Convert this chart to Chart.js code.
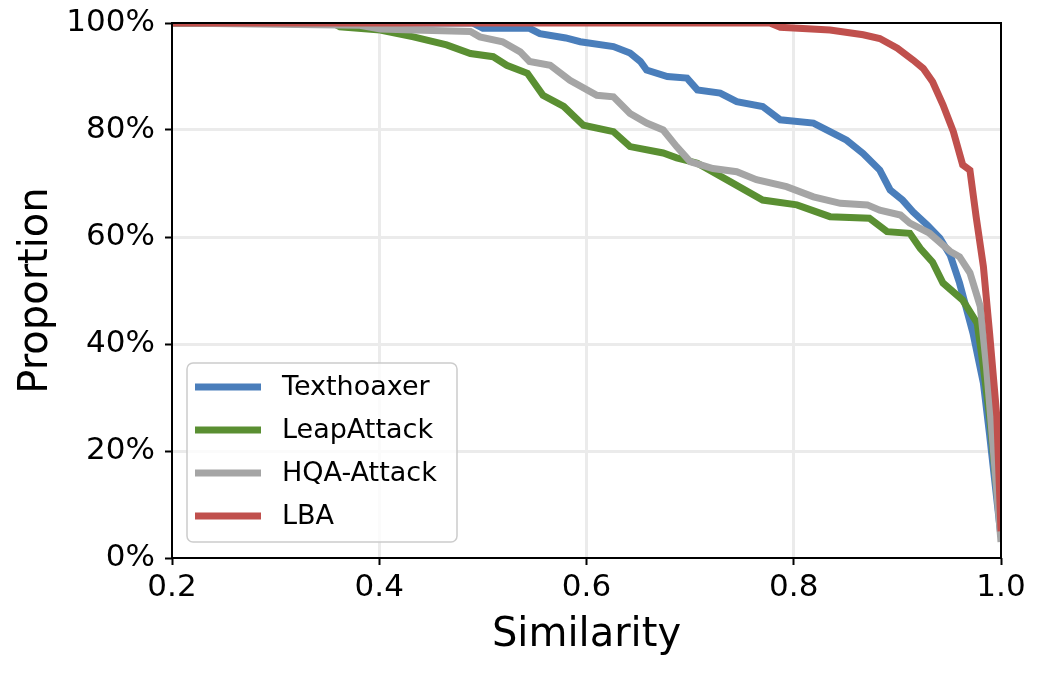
<!DOCTYPE html>
<html>
<head>
<meta charset="utf-8">
<script src="https://cdn.jsdelivr.net/npm/chart.js@4"></script>
<style>
  body { margin: 0; background: #fff; }
</style>
</head>
<body>
<canvas id="grafico" width="1049" height="675"></canvas>
<script>
// valores (x = similaridade, y = proporcao em %)
var nomes = ['Texthoaxer', 'LeapAttack', 'HQA-Attack', 'LBA'];
var cores = ['#4a7ebb', '#5a8f32', '#a5a5a5', '#c0504d'];

var texthoaxer_x = [0.2, 0.49, 0.50, 0.545, 0.555, 0.58, 0.594, 0.626, 0.642, 0.652, 0.658, 0.678, 0.697, 0.707, 0.729, 0.745, 0.77, 0.787, 0.819, 0.835, 0.851, 0.867, 0.883, 0.893, 0.905, 0.915, 0.929, 0.941, 0.951, 0.96, 0.973, 0.983, 0.989, 1.0];
var texthoaxer_y = [100, 100, 99, 99, 98, 97.2, 96.5, 95.6, 94.4, 92.8, 91.2, 90.0, 89.7, 87.5, 86.9, 85.3, 84.4, 81.9, 81.3, 79.7, 78.1, 75.6, 72.5, 68.8, 66.9, 64.7, 62.2, 59.8, 56.6, 51.4, 42, 32.7, 23, 4];

var leap_x = [0.2, 0.355, 0.362, 0.401, 0.433, 0.465, 0.488, 0.51, 0.523, 0.543, 0.558, 0.578, 0.597, 0.626, 0.642, 0.674, 0.687, 0.707, 0.739, 0.77, 0.803, 0.835, 0.873, 0.89, 0.912, 0.922, 0.934, 0.944, 0.963, 0.977, 0.983, 0.989, 1.0];
var leap_y = [100, 100, 99.3, 98.7, 97.4, 95.9, 94.3, 93.7, 92.1, 90.6, 86.5, 84.4, 80.9, 79.7, 76.9, 75.7, 74.8, 73.8, 70.3, 66.9, 66.0, 63.8, 63.5, 61.0, 60.7, 57.9, 55.3, 51.4, 48.2, 43.9, 35.7, 26.4, 5];

var hqa_x = [0.2, 0.38, 0.401, 0.433, 0.488, 0.497, 0.519, 0.536, 0.545, 0.565, 0.584, 0.61, 0.626, 0.642, 0.658, 0.674, 0.687, 0.7, 0.722, 0.745, 0.764, 0.793, 0.819, 0.845, 0.871, 0.883, 0.903, 0.912, 0.931, 0.951, 0.96, 0.97, 0.98, 0.986, 1.0];
var hqa_y = [100, 99.6, 98.9, 98.7, 98.4, 97.4, 96.5, 94.6, 92.8, 92.1, 89.3, 86.5, 86.2, 83.1, 81.3, 80, 76.9, 74.1, 72.8, 72.2, 70.7, 69.4, 67.5, 66.3, 66.0, 65.0, 64.1, 62.6, 60.7, 57.3, 56.3, 53.3, 47, 35.7, 3];

var lba_x = [0.2, 0.777, 0.787, 0.835, 0.867, 0.883, 0.9, 0.915, 0.925, 0.934, 0.944, 0.954, 0.963, 0.970, 0.976, 0.983, 0.989, 0.996, 1.0];
var lba_y = [100, 100, 99.2, 98.7, 97.8, 97.1, 95.3, 93.1, 91.5, 89.0, 84.7, 79.7, 73.5, 72.5, 63.8, 54.5, 42, 26.4, 5];

var x_ticks = [0.2, 0.4, 0.6, 0.8, 1.0];
var y_ticks = [0, 20, 40, 60, 80, 100];

var series_x = [texthoaxer_x, leap_x, hqa_x, lba_x];
var series_y = [texthoaxer_y, leap_y, hqa_y, lba_y];

var fonte = 'DejaVu Sans';

function pontos(xs, ys) {
    var p = [];
    for (var i = 0; i < xs.length; i++) p.push({ x: xs[i], y: ys[i] });
    return p;
}

var datasets = [];
for (var i = 0; i < nomes.length; i++) {
    datasets.push({
        label: nomes[i],
        data: pontos(series_x[i], series_y[i]),
        borderColor: cores[i],
        backgroundColor: cores[i],
        borderWidth: 7,
        pointRadius: 0,
        tension: 0,
        clip: 0,
        order: nomes.length - i // ultimo por cima, como no matplotlib
    });
}

// moldura preta em volta da area + legenda dentro do grafico
var moldura = {
    id: 'moldura',
    afterDatasetsDraw: function (chart) {
        var a = chart.chartArea, ctx = chart.ctx;
        ctx.save();
        ctx.strokeStyle = '#000';
        ctx.lineWidth = 2;
        ctx.strokeRect(a.left, a.top, a.right - a.left, a.bottom - a.top);

        // legenda
        var lx = a.left + 15, ly = a.bottom - 195, lw = 270, lh = 179;
        ctx.beginPath();
        ctx.roundRect(lx, ly, lw, lh, 6);
        ctx.fillStyle = 'rgba(255,255,255,0.8)';
        ctx.fill();
        ctx.strokeStyle = '#cccccc';
        ctx.lineWidth = 1.5;
        ctx.stroke();
        ctx.font = '27px "' + fonte + '"';
        ctx.textBaseline = 'middle';
        ctx.textAlign = 'left';
        for (var i = 0; i < nomes.length; i++) {
            var yy = ly + 24 + i * 43;
            ctx.beginPath();
            ctx.moveTo(lx + 8, yy);
            ctx.lineTo(lx + 74, yy);
            ctx.strokeStyle = cores[i];
            ctx.lineWidth = 7;
            ctx.stroke();
            ctx.fillStyle = '#000';
            ctx.fillText(nomes[i], lx + 95, yy + 1);
        }
        ctx.restore();
    }
};

var config = {
    type: 'line',
    data: { datasets: datasets },
    options: {
        responsive: false,
        animation: false,
        layout: { padding: { top: 23, right: 48, left: 0, bottom: 0 } },
        plugins: { legend: { display: false }, tooltip: { enabled: false } },
        scales: {
            x: {
                type: 'linear',
                min: 0.2,
                max: 1.0,
                afterFit: function (s) { s.height = 117; },
                afterBuildTicks: function (s) { s.ticks = x_ticks.map(function (v) { return { value: v }; }); },
                ticks: {
                    color: '#000',
                    font: { family: fonte, size: 31 },
                    padding: 4,
                    maxRotation: 0,
                    callback: function (v) { return v.toFixed(1); }
                },
                grid: {
                    color: function (c) { return (c.tick && (c.tick.value <= 0.2 || c.tick.value >= 1.0)) ? 'rgba(0,0,0,0)' : '#ebebeb'; },
                    lineWidth: 3,
                    tickColor: '#000',
                    tickWidth: 2,
                    tickLength: 7
                },
                border: { display: false },
                title: {
                    display: true,
                    text: 'Similarity',
                    color: '#000',
                    font: { family: fonte, size: 40 },
                    padding: { top: 0, bottom: 15 }
                }
            },
            y: {
                min: 0,
                max: 100,
                afterFit: function (s) { s.width = 172; },
                afterBuildTicks: function (s) { s.ticks = y_ticks.map(function (v) { return { value: v }; }); },
                ticks: {
                    color: '#000',
                    font: { family: fonte, size: 31, lineHeight: 0.8 },
                    padding: 10,
                    callback: function (v) { return v + '%'; }
                },
                grid: {
                    color: function (c) { return (c.tick && (c.tick.value <= 0 || c.tick.value >= 100)) ? 'rgba(0,0,0,0)' : '#ebebeb'; },
                    lineWidth: 3,
                    tickColor: '#000',
                    tickWidth: 2,
                    tickLength: 7
                },
                border: { display: false },
                title: {
                    display: true,
                    text: 'Proportion',
                    color: '#000',
                    font: { family: fonte, size: 40 },
                    padding: { top: 13, bottom: 0 }
                }
            }
        }
    },
    plugins: [moldura]
};

var grafico = new Chart(document.getElementById('grafico'), config);
</script>
</body>
</html>
